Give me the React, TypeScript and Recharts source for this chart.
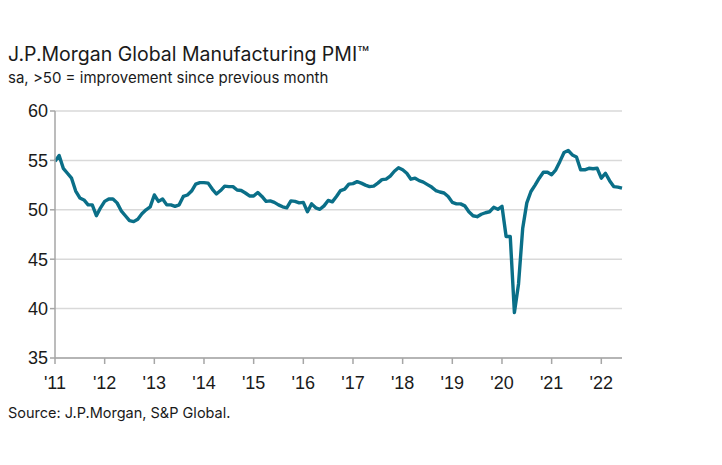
import React from 'react';
import { LineChart, Line, XAxis, YAxis, CartesianGrid } from 'recharts';

// Monthly index: 0 = Jan 2011 ... 137 = Jun 2022
const pmi2011 = [54.9, 55.5, 54.2, 53.7, 53.2, 51.9, 51.2, 51.0, 50.5, 50.5, 49.4, 50.2];
const pmi2012 = [50.85, 51.1, 51.1, 50.7, 49.9, 49.4, 48.9, 48.8, 49.05, 49.6, 50.0, 50.3];
const pmi2013 = [51.5, 50.85, 51.1, 50.5, 50.5, 50.35, 50.5, 51.35, 51.5, 51.9, 52.6, 52.75];
const pmi2014 = [52.75, 52.7, 52.1, 51.6, 51.95, 52.4, 52.35, 52.35, 52.0, 51.95, 51.7, 51.4];
const pmi2015 = [51.4, 51.75, 51.35, 50.85, 50.9, 50.75, 50.5, 50.3, 50.2, 50.9, 50.85, 50.7];
const pmi2016 = [50.75, 49.8, 50.6, 50.2, 50.05, 50.4, 50.95, 50.8, 51.35, 51.95, 52.1, 52.6];
const pmi2017 = [52.65, 52.85, 52.7, 52.5, 52.35, 52.4, 52.7, 53.05, 53.1, 53.4, 53.9, 54.25];
const pmi2018 = [54.05, 53.7, 53.1, 53.2, 52.95, 52.8, 52.55, 52.3, 51.95, 51.8, 51.7, 51.35];
const pmi2019 = [50.75, 50.6, 50.6, 50.4, 49.8, 49.4, 49.3, 49.55, 49.7, 49.8, 50.25, 50.05];
const pmi2020 = [50.35, 47.3, 47.3, 39.6, 42.5, 48.1, 50.7, 51.85, 52.5, 53.2, 53.8, 53.8];
const pmi2021 = [53.55, 54.05, 54.9, 55.8, 56.0, 55.55, 55.35, 54.05, 54.05, 54.2, 54.15, 54.2];
const pmi2022 = [53.2, 53.7, 52.95, 52.35, 52.3, 52.2];

const yearLabels = ["'11", "'12", "'13", "'14", "'15", "'16", "'17", "'18", "'19", "'20", "'21", "'22"];
const yTicks = [35, 40, 45, 50, 55, 60];

const values = [
  ...pmi2011, ...pmi2012, ...pmi2013, ...pmi2014, ...pmi2015, ...pmi2016,
  ...pmi2017, ...pmi2018, ...pmi2019, ...pmi2020, ...pmi2021, ...pmi2022,
];
const data = values.map((v, i) => ({ m: i, pmi: v }));
const xTicks = yearLabels.map((_, i) => i * 12);

const textFont = 'Inter, "Open Sans", sans-serif';
const tickFont = '"Liberation Sans", Arial, sans-serif';

export default function App() {
  return (
    <div style={{ position: 'relative', width: 714, height: 457, background: '#fff' }}>
      <div style={{ position: 'absolute', left: 0, top: 34, fontFamily: textFont, fontSize: 19.5, color: '#1a1a1a', whiteSpace: 'nowrap' }}>
        J.P.Morgan Global Manufacturing PMI™
      </div>
      <div style={{ position: 'absolute', left: 0, top: 60, fontFamily: textFont, fontSize: 15, color: '#1a1a1a', whiteSpace: 'nowrap' }}>
        sa, &gt;50 = improvement since previous month
      </div>
      <LineChart
        width={714}
        height={457}
        data={data}
        margin={{ top: 103, right: 100, bottom: 67, left: 7 }}
      >
        <CartesianGrid horizontal vertical={false} stroke="#d9d9d9" strokeWidth={1.5} />
        <XAxis
          dataKey="m"
          type="number"
          domain={[0, 137]}
          ticks={xTicks}
          tickFormatter={(v: number) => yearLabels[v / 12]}
          stroke="#a6a6a6"
          strokeWidth={1.5}
          tickSize={6}
          tick={{ fill: '#1a1a1a', fontSize: 18, fontFamily: tickFont, dy: 10 }}
          height={40}
          interval={0}
        />
        <YAxis
          domain={[35, 60]}
          ticks={yTicks}
          stroke="#a6a6a6"
          strokeWidth={1.5}
          tickSize={5}
          tick={{ fill: '#1a1a1a', fontSize: 18, fontFamily: tickFont }}
          width={40}
          interval={0}
        />
        <Line
          dataKey="pmi"
          type="linear"
          stroke="#0a6f88"
          strokeWidth={3.4}
          dot={false}
          strokeLinejoin="round"
          isAnimationActive={false}
        />
      </LineChart>
      <div style={{ position: 'absolute', left: 0, top: 396, fontFamily: textFont, fontSize: 14.5, color: '#1a1a1a', whiteSpace: 'nowrap' }}>
        Source: J.P.Morgan, S&amp;P Global.
      </div>
    </div>
  );
}
